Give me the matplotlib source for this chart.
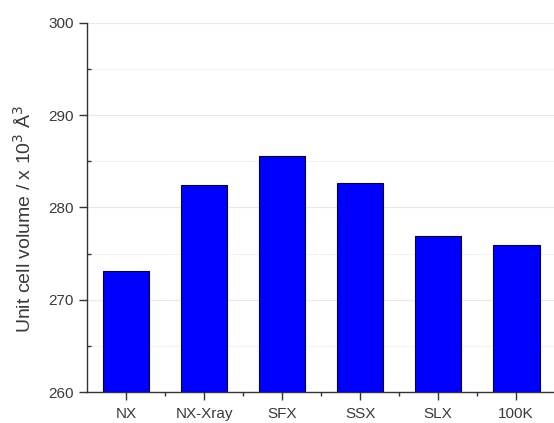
import matplotlib

matplotlib.use("Agg")
import matplotlib.pyplot as plt
import numpy as np
from matplotlib.ticker import MultipleLocator

# values
categories = ["NX", "NX-Xray", "SFX", "SSX", "SLX", "100K"]
volumes = [273.1, 282.4, 285.6, 282.6, 276.9, 275.9]
y_ticks = [260, 270, 280, 290, 300]

plt.rcParams.update({
    "font.family": ["Liberation Sans", "DejaVu Sans"],
    "font.size": 11,
    "axes.linewidth": 1.0,
})

fig = plt.figure(figsize=(5.54, 4.23), dpi=100)
ax = fig.add_axes([0.157, 0.073, 0.845, 0.873])

x = np.arange(len(categories))
ax.bar(x, volumes, width=0.6, bottom=0, color="#0000ff",
       edgecolor="#000033", linewidth=0.8, zorder=3)

ax.set_xlim(-0.5, 5.5)
ax.set_ylim(260, 300)
ax.set_yticks(y_ticks)
ax.yaxis.set_minor_locator(MultipleLocator(5))
ax.set_xticks(x)
ax.set_xticklabels(categories)
ax.set_xticks(x[:-1] + 0.5, minor=True)

ax.grid(True, which="major", axis="y", color="#e9e9e9", lw=0.8, zorder=0)
ax.grid(True, which="minor", axis="y", color="#f2f2f2", lw=0.8, zorder=0)

for side in ("top", "right"):
    ax.spines[side].set_visible(False)
for side in ("left", "bottom"):
    ax.spines[side].set_color("#333333")

ax.tick_params(axis="both", which="major", direction="out", length=6,
               width=1.0, color="#333333", labelcolor="#3a3a3a",
               labelsize=11)
ax.tick_params(axis="x", which="major", pad=5)
ax.tick_params(axis="y", which="minor", direction="in", length=3,
               width=1.0, color="#333333")
ax.tick_params(axis="x", which="minor", direction="out", length=3,
               width=1.0, color="#333333")

ax.set_ylabel("Unit cell volume / x 10$^3$ Å$^3$", fontsize=14,
              color="#3a3a3a")
ax.yaxis.set_label_coords(-0.111, 0.469)

fig.savefig("out.png", dpi=100)
